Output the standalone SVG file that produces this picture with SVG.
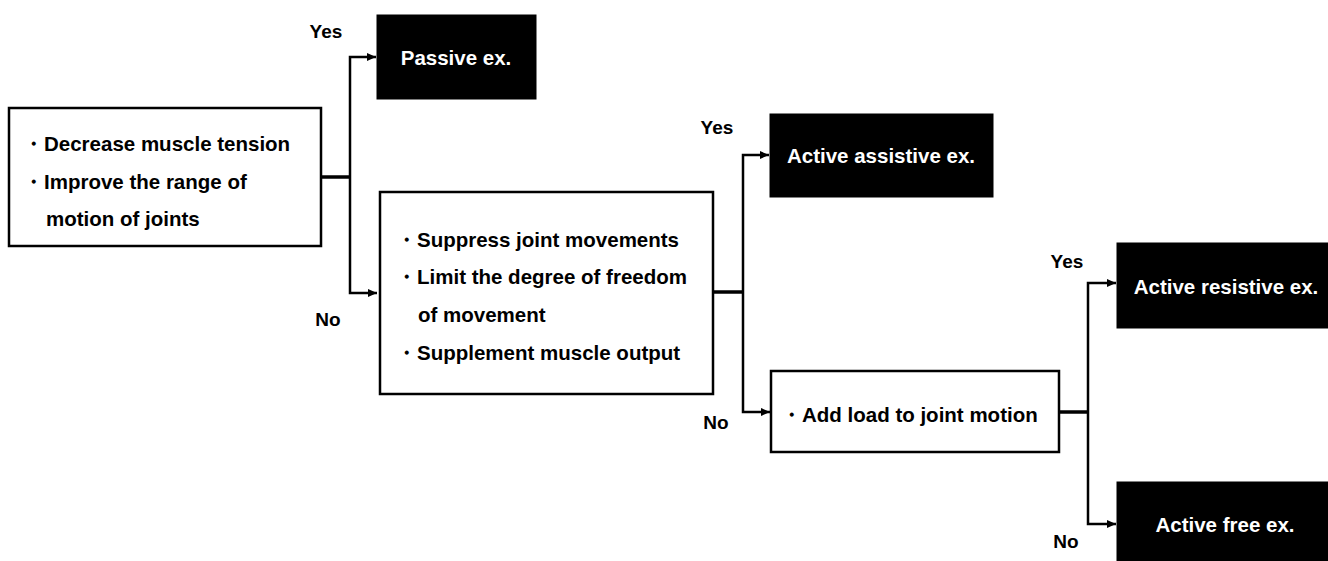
<svg xmlns="http://www.w3.org/2000/svg" width="1328" height="561" viewBox="0 0 1328 561">
<style>
text{font-family:"Liberation Sans",Arial,sans-serif;font-weight:bold;font-size:20.5px;fill:#000}
.wbox{fill:#fff;stroke:#000;stroke-width:2.5}
.bbox{fill:#000;stroke:#000}
.wt{fill:#fff}
.ln{fill:none;stroke:#000;stroke-width:2.5}
.stem{fill:none;stroke:#000;stroke-width:3.5}
.lbl{text-anchor:middle;font-size:19px}
.ctr{text-anchor:middle}
</style>
<defs>
<marker id="ah" markerWidth="10" markerHeight="10" refX="9" refY="5" orient="auto" markerUnits="userSpaceOnUse">
<path d="M0,1 L9,5 L0,9 Z" fill="#000"/>
</marker>
</defs>
<g id="connectors">
<path class="stem" d="M321,177 H350"/>
<path class="ln" d="M350,177 V57 H376" marker-end="url(#ah)"/>
<path class="ln" d="M350,177 V293 H377" marker-end="url(#ah)"/>
<path class="stem" d="M713,292 H743"/>
<path class="ln" d="M743,292 V155 H769" marker-end="url(#ah)"/>
<path class="ln" d="M743,292 V412 H770" marker-end="url(#ah)"/>
<path class="stem" d="M1059,412 H1088"/>
<path class="ln" d="M1088,412 V283 H1116" marker-end="url(#ah)"/>
<path class="ln" d="M1088,412 V524 H1116" marker-end="url(#ah)"/>
<text class="lbl" x="326" y="38">Yes</text>
<text class="lbl" x="328" y="326">No</text>
<text class="lbl" x="717" y="134">Yes</text>
<text class="lbl" x="716" y="429">No</text>
<text class="lbl" x="1067" y="268">Yes</text>
<text class="lbl" x="1066" y="548">No</text>
</g>
<g id="n1">
<rect class="wbox" x="9" y="108" width="312" height="138"/>
<text x="23" y="151">・Decrease muscle tension</text>
<text x="23" y="189">・Improve the range of</text>
<text x="46" y="226">motion of joints</text>
</g>
<g id="n-passive">
<rect class="bbox" x="377" y="15" width="159" height="84"/>
<text class="wt ctr" x="456" y="65">Passive ex.</text>
</g>
<g id="n2">
<rect class="wbox" x="380" y="192" width="333" height="202"/>
<text x="396" y="247">・Suppress joint movements</text>
<text x="396" y="284">・Limit the degree of freedom</text>
<text x="418" y="322">of movement</text>
<text x="396" y="360">・Supplement muscle output</text>
</g>
<g id="n-assistive">
<rect class="bbox" x="770" y="114" width="223" height="83"/>
<text class="wt ctr" x="881" y="163">Active assistive ex.</text>
</g>
<g id="n3">
<rect class="wbox" x="771" y="371" width="288" height="81"/>
<text x="781" y="422">・Add load to joint motion</text>
</g>
<g id="n-resistive">
<rect class="bbox" x="1117" y="243" width="211" height="85"/>
<text class="wt ctr" x="1226" y="294">Active resistive ex.</text>
</g>
<g id="n-free">
<rect class="bbox" x="1117" y="482" width="211" height="85"/>
<text class="wt ctr" x="1225" y="532">Active free ex.</text>
</g>
</svg>
